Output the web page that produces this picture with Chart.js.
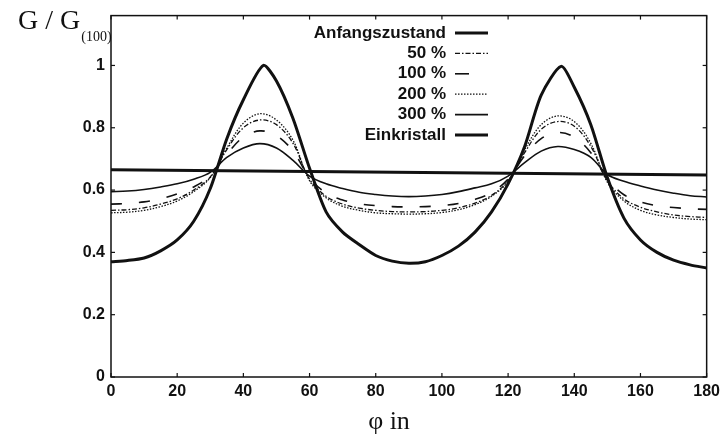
<!DOCTYPE html>
<html>
<head>
<meta charset="utf-8">
<script src="https://cdn.jsdelivr.net/npm/chart.js@4.4.1/dist/chart.umd.min.js"></script>
<style>
  html, body { margin: 0; padding: 0; background: #fff; }
  #wrap { width: 725px; height: 443px; position: relative; }
</style>
</head>
<body>
<div id="wrap"><canvas id="c" width="725" height="443"></canvas></div>
<script>
// ---- data ----
const phi = [0,5,10,15,20,25,30,35,40,45,50,55,60,65,70,75,80,85,90,95,100,105,110,115,120,125,130,135,140,145,150,155,160,165,170,175,180];

const anfangPhi = [0, 180];
const anfangszustand = [0.665, 0.648];

const pct50  = [0.535,0.537,0.543,0.555,0.572,0.600,0.642,0.730,0.800,0.825,0.810,0.750,0.635,0.580,0.555,0.542,0.535,0.531,0.530,0.531,0.535,0.543,0.558,0.583,0.630,0.720,0.795,0.820,0.805,0.740,0.630,0.572,0.545,0.530,0.520,0.515,0.512];
const pct100 = [0.555,0.557,0.562,0.572,0.588,0.610,0.645,0.715,0.770,0.790,0.775,0.725,0.640,0.590,0.568,0.556,0.550,0.547,0.546,0.547,0.550,0.557,0.570,0.592,0.635,0.710,0.765,0.785,0.770,0.720,0.635,0.585,0.562,0.550,0.544,0.540,0.538];
const pct200 = [0.527,0.529,0.535,0.547,0.565,0.595,0.640,0.735,0.815,0.845,0.825,0.760,0.630,0.575,0.548,0.535,0.527,0.524,0.523,0.524,0.528,0.537,0.553,0.580,0.628,0.730,0.810,0.838,0.820,0.750,0.625,0.565,0.535,0.520,0.512,0.507,0.505];
const pct300 = [0.595,0.597,0.602,0.610,0.620,0.635,0.657,0.705,0.735,0.749,0.735,0.695,0.645,0.620,0.605,0.593,0.586,0.581,0.579,0.581,0.586,0.595,0.607,0.620,0.645,0.688,0.725,0.740,0.730,0.705,0.650,0.628,0.613,0.600,0.590,0.582,0.578];

const einPhi = [0,5,10,15,20,25,30,35,40,46,50,55,60,65,70,75,80,85,90,95,100,105,110,115,120,125,130,136,140,145,150,155,160,165,170,175,180];
const einkristall = [0.370,0.374,0.382,0.405,0.440,0.500,0.605,0.765,0.890,1.000,0.950,0.830,0.670,0.530,0.465,0.425,0.390,0.372,0.365,0.370,0.390,0.420,0.465,0.530,0.620,0.740,0.905,0.997,0.930,0.810,0.640,0.510,0.440,0.400,0.375,0.360,0.350];

const xTicks = [0,20,40,60,80,100,120,140,160,180];
const yTicks = [0,0.2,0.4,0.6,0.8,1];

const legendLabels = ['Anfangszustand','50 %','100 %','200 %','300 %','Einkristall'];

// ---- build ----
const pts = (xs, ys) => xs.map((x, i) => ({x: x, y: ys[i]}));
const INK = '#111';
const SANS = "'Liberation Sans', Arial, sans-serif";
const SERIF = "'Liberation Serif', 'Times New Roman', serif";

const datasets = [
  {label: legendLabels[0], data: pts(anfangPhi, anfangszustand), borderWidth: 3, borderDash: [], tension: 0},
  {label: legendLabels[1], data: pts(phi, pct50),  borderWidth: 1.3, borderDash: [5,2,1.5,2], tension: 0.35},
  {label: legendLabels[2], data: pts(phi, pct100), borderWidth: 1.6, borderDash: [11,17], tension: 0.35},
  {label: legendLabels[3], data: pts(phi, pct200), borderWidth: 1.3, borderDash: [1.5,1.5], tension: 0.35},
  {label: legendLabels[4], data: pts(phi, pct300), borderWidth: 1.6, borderDash: [], tension: 0.35},
  {label: legendLabels[5], data: pts(einPhi, einkristall), borderWidth: 3, borderDash: [], tension: 0.25}
].map(d => Object.assign(d, {borderColor: INK, pointRadius: 0, fill: false}));

const PLOT = {left: 111, right: 707, top: 11, bottom: 377};

const framePlugin = {
  id: 'frame',
  afterDatasetsDraw(chart) {
    const ctx = chart.ctx, a = chart.chartArea;
    const xs = chart.scales.x, ys = chart.scales.y;
    ctx.save();
    ctx.strokeStyle = INK;
    ctx.lineWidth = 1.5;
    ctx.setLineDash([]);
    ctx.strokeRect(a.left, a.top, a.right - a.left, a.bottom - a.top);
    ctx.lineWidth = 1.2;
    const tl = 4;
    xTicks.forEach(v => {
      const px = xs.getPixelForValue(v);
      ctx.beginPath(); ctx.moveTo(px, a.bottom); ctx.lineTo(px, a.bottom - tl); ctx.stroke();
      ctx.beginPath(); ctx.moveTo(px, a.top); ctx.lineTo(px, a.top + tl); ctx.stroke();
    });
    yTicks.forEach(v => {
      const py = ys.getPixelForValue(v);
      ctx.beginPath(); ctx.moveTo(a.left, py); ctx.lineTo(a.left + tl, py); ctx.stroke();
      ctx.beginPath(); ctx.moveTo(a.right, py); ctx.lineTo(a.right - tl, py); ctx.stroke();
    });

    // legend
    ctx.font = "bold 17px " + SANS;
    ctx.fillStyle = INK;
    ctx.textAlign = 'right';
    ctx.textBaseline = 'middle';
    const rowY0 = 33, rowDy = 20.4, textRight = 446, lx0 = 455, lx1 = 488;
    chart.data.datasets.forEach((d, i) => {
      const y = rowY0 + i * rowDy;
      ctx.fillText(d.label, textRight, y);
      ctx.save();
      ctx.lineWidth = d.borderWidth;
      ctx.setLineDash(i === 2 ? [14, 40] : d.borderDash);
      ctx.beginPath(); ctx.moveTo(lx0, y); ctx.lineTo(i === 2 ? 469 : lx1, y); ctx.stroke();
      ctx.restore();
    });

    // axis titles
    ctx.textAlign = 'left';
    ctx.textBaseline = 'alphabetic';
    ctx.font = "28px " + SERIF;
    ctx.fillText('G / G', 18, 29);
    const w = ctx.measureText('G / G').width;
    ctx.font = "14px " + SERIF;
    ctx.fillText('(100)', 18 + w + 1, 41);
    ctx.font = "26px " + SERIF;
    ctx.textAlign = 'center';
    ctx.fillText('\u03C6 in', 389, 429);
    ctx.restore();
  }
};

new Chart(document.getElementById('c'), {
  type: 'line',
  data: {datasets: datasets},
  options: {
    responsive: false,
    animation: false,
    events: [],
    layout: {padding: {left: 0, right: 725 - PLOT.right, top: PLOT.top, bottom: 0}},
    plugins: {legend: {display: false}, tooltip: {enabled: false}, title: {display: false}},
    scales: {
      x: {
        type: 'linear', min: 0, max: 180,
        grid: {display: false, drawTicks: false},
        border: {display: false},
        afterFit(s) { s.height = 443 - PLOT.bottom; },
        afterBuildTicks(s) { s.ticks = xTicks.map(v => ({value: v})); },
        ticks: {padding: 5, color: INK, font: {family: SANS, size: 16, weight: 'bold'}, maxRotation: 0, autoSkip: false,
                callback: v => String(v)}
      },
      y: {
        type: 'linear', min: 0, max: 1.16,
        grid: {display: false, drawTicks: false},
        border: {display: false},
        afterFit(s) { s.width = PLOT.left; },
        afterBuildTicks(s) { s.ticks = yTicks.map(v => ({value: v})); },
        ticks: {padding: 6, color: INK, font: {family: SANS, size: 16, weight: 'bold'},
                callback: v => String(Math.round(v * 10) / 10)}
      }
    }
  },
  plugins: [framePlugin]
});
</script>
</body>
</html>
